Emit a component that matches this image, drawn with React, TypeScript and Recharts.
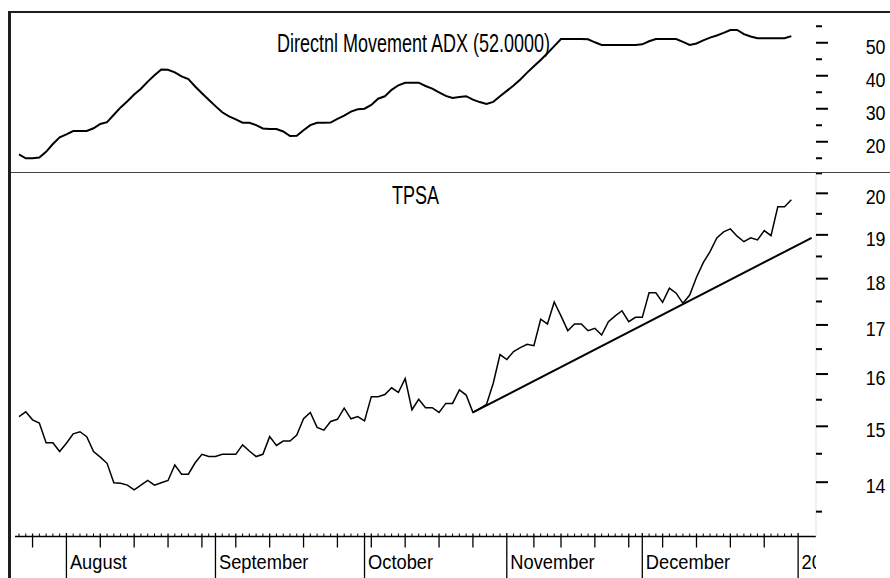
import { LineChart, Line, XAxis, YAxis, ReferenceLine } from 'recharts';

const FONT = "'Liberation Sans', Arial, sans-serif";

// TPSA closing prices, one per trading day (22 Jul 2004 .. 31 Dec 2004)
const tpsa = [
  15.18, 15.27, 15.12, 15.06, 14.7, 14.7, 14.54, 14.69, 14.86, 14.9,
  14.81, 14.54, 14.44, 14.33, 13.99, 13.98, 13.95, 13.87, 13.95, 14.03,
  13.95, 13.99, 14.03, 14.3, 14.14, 14.14, 14.34, 14.49, 14.45, 14.45,
  14.49, 14.49, 14.49, 14.66, 14.55, 14.45, 14.49, 14.81, 14.65, 14.73,
  14.73, 14.84, 15.14, 15.26, 14.98, 14.93, 15.09, 15.13, 15.34, 15.14,
  15.18, 15.1, 15.56, 15.56, 15.6, 15.73, 15.64, 15.91, 15.31, 15.51,
  15.35, 15.35, 15.26, 15.43, 15.43, 15.69, 15.59, 15.26, 15.33, 15.41,
  15.82, 16.39, 16.29, 16.45, 16.53, 16.6, 16.57, 17.12, 17.02, 17.49,
  17.19, 16.88, 17.02, 17.02, 16.88, 16.93, 16.79, 17.07, 17.19, 17.3,
  17.07, 17.16, 17.16, 17.69, 17.69, 17.48, 17.79, 17.68, 17.46, 17.64,
  18.03, 18.36, 18.61, 18.93, 19.07, 19.14, 18.97, 18.84, 18.93, 18.88,
  19.1, 18.98, 19.67, 19.67, 19.84,
];

// Directional movement ADX, same days
const adx = [
  16.17, 14.98, 14.98, 15.2, 16.95, 19.32, 21.35, 22.23, 23.26, 23.26,
  23.26, 24.08, 25.38, 25.92, 28.17, 30.41, 32.26, 34.29, 36.08, 38.23,
  40.14, 41.92, 41.83, 41.02, 39.8, 38.98, 36.74, 34.71, 32.74, 30.8,
  28.92, 27.68, 26.77, 25.77, 25.77, 25.02, 24.02, 23.86, 23.86, 23.11,
  21.74, 21.8, 23.5, 25.05, 25.77, 25.77, 25.8, 26.92, 27.89, 29.14,
  29.83, 30.02, 31.14, 33.05, 33.77, 35.74, 37.11, 37.86, 37.89, 37.89,
  36.89, 36.08, 34.98, 33.89, 33.26, 33.53, 33.8, 32.77, 32.02, 31.44,
  32.08, 33.77, 35.41, 37.02, 38.89, 40.95, 42.86, 44.8, 46.83, 48.98,
  51.14, 51.14, 51.14, 51.14, 51.05, 50.14, 49.32, 49.32, 49.32, 49.32,
  49.32, 49.32, 49.53, 50.44, 51.14, 51.14, 51.14, 51.14, 50.29, 49.35,
  49.77, 50.71, 51.56, 52.2, 52.98, 53.86, 53.86, 52.62, 51.89, 51.35,
  51.35, 51.35, 51.35, 51.35, 52.0,
];

// first trading day of each month / week (day index)
const monthStarts = [
  { day: 7, label: 'August' },
  { day: 29, label: 'September' },
  { day: 51, label: 'October' },
  { day: 72, label: 'November' },
  { day: 92, label: 'December' },
  { day: 115, label: '2005' },
];
const weekStarts = [2, 7, 12, 17, 22, 27, 32, 37, 42, 47, 52, 57, 62, 67, 72, 76, 80, 85, 90, 95, 100, 105, 110, 115];
const dayTicks = Array.from({ length: 116 }, (_, i) => i);

const trendLine = [
  { day: 67, value: 15.26 },
  { day: 117, value: 18.93 },
];

const adxTicks = [15, 20, 25, 30, 35, 40, 45, 50, 55];
const adxLabels = [20, 30, 40, 50];
const priceTicks = [13.5, 14, 14.5, 15, 15.5, 16, 16.5, 17, 17.5, 18, 18.5, 19, 19.5, 20, 20.5];
const priceLabels = [14, 15, 16, 17, 18, 19, 20];

const data = tpsa.map((v, i) => ({ day: i, tpsa: v, adx: adx[i] }));

const WIDTH = 890;
const AXIS_W = 74;
const PLOT_RIGHT = WIDTH - AXIS_W;
const X_DOMAIN: [number, number] = [-0.59, 117.64];
const TOP_H = 173;
const BOTTOM_H = 405;

function makeYTick(labels: number[]) {
  return (props: any) => {
    const { x, y, payload } = props;
    const major = labels.includes(payload.value);
    return (
      <g>
        <line x1={x} y1={y} x2={x + (major ? 12 : 6)} y2={y} stroke="#000" strokeWidth={2} />
        {major && (
          <text
            transform={`translate(${x + 69.5} ${y + 11}) scale(0.85 1)`}
            textAnchor="end"
            fontSize={21}
            fontFamily={FONT}
            fill="#000"
          >
            {payload.value}
          </text>
        )}
      </g>
    );
  };
}

function XTick(props: any) {
  const { x, y, payload } = props;
  const day = payload.value;
  const month = monthStarts.find((m) => m.day === day);
  if (month) {
    return (
      <g>
        <clipPath id={`mclip${day}`}>
          <rect x={0} y={0} width={PLOT_RIGHT} height={BOTTOM_H} />
        </clipPath>
        <line x1={x} y1={y - 3.5} x2={x} y2={y + 45} stroke="#000" strokeWidth={1.3} />
        <g clipPath={`url(#mclip${day})`}>
          <text
            transform={`translate(${x + 3.5} ${y + 32}) scale(0.915 1)`}
            fontSize={20}
            fontFamily={FONT}
            fill="#000"
          >
            {month.label}
          </text>
        </g>
      </g>
    );
  }
  if (weekStarts.includes(day)) {
    return <line x1={x} y1={y - 3} x2={x} y2={y + 11} stroke="#000" strokeWidth={1.3} />;
  }
  return <line x1={x} y1={y - 3} x2={x} y2={y} stroke="#000" strokeWidth={1} />;
}

export default function App() {
  return (
    <div style={{ position: 'absolute', left: 0, top: 0, width: WIDTH, height: 578, background: '#fff', overflow: 'hidden' }}>
      <div style={{ position: 'absolute', left: 0, top: 0 }}>
        <LineChart width={WIDTH} height={TOP_H} data={data} margin={{ top: 12, right: 0, bottom: 0, left: 15 }}>
          <XAxis dataKey="day" type="number" domain={X_DOMAIN} allowDataOverflow hide />
          <YAxis
            orientation="right"
            width={AXIS_W}
            domain={[10.53, 59.32]}
            allowDataOverflow
            ticks={adxTicks}
            interval={0}
            tickSize={0}
            tickMargin={0}
            axisLine={false}
            tickLine={false}
            tick={makeYTick(adxLabels)}
          />
          <Line type="linear" dataKey="adx" stroke="#000" strokeWidth={2} dot={false} isAnimationActive={false} />
        </LineChart>
      </div>
      <div style={{ position: 'absolute', left: 0, top: TOP_H }}>
        <LineChart width={WIDTH} height={BOTTOM_H} data={data} margin={{ top: 0, right: 0, bottom: 0, left: 15 }}>
          <XAxis
            dataKey="day"
            type="number"
            domain={X_DOMAIN}
            allowDataOverflow
            ticks={dayTicks}
            interval={0}
            height={41.5}
            tickSize={0}
            tickMargin={0}
            tickLine={false}
            axisLine={{ stroke: '#000', strokeWidth: 1.5 }}
            tick={XTick}
          />
          <YAxis
            orientation="right"
            width={AXIS_W}
            scale="log"
            domain={[13.092, 20.508]}
            allowDataOverflow
            ticks={priceTicks}
            interval={0}
            tickSize={0}
            tickMargin={0}
            axisLine={{ stroke: '#e2e2e2', strokeWidth: 1 }}
            tickLine={false}
            tick={makeYTick(priceLabels)}
          />
          <ReferenceLine
            segment={trendLine.map((p) => ({ x: p.day, y: p.value }))}
            stroke="#000"
            strokeWidth={2}
            ifOverflow="visible"
          />
          <Line type="linear" dataKey="tpsa" stroke="#000" strokeWidth={1.5} dot={false} isAnimationActive={false} />
        </LineChart>
      </div>
      <div style={{ position: 'absolute', left: 10, top: 172, width: 880, height: 1, background: '#444' }} />
      <div style={{ position: 'absolute', left: 8, top: 11, width: 882, height: 2, background: '#1e1e1e' }} />
      <div style={{ position: 'absolute', left: 8, top: 11, width: 2.5, height: 567, background: '#1e1e1e' }} />
      <svg width={WIDTH} height={578} style={{ position: 'absolute', left: 0, top: 0, pointerEvents: 'none' }}>
        <text x={277} y={52} fontSize={26.5} fontFamily={FONT} fill="#000" textLength={273} lengthAdjust="spacingAndGlyphs">
          Directnl Movement ADX (52.0000)
        </text>
        <text x={392} y={204.3} fontSize={26.5} fontFamily={FONT} fill="#000" textLength={47} lengthAdjust="spacingAndGlyphs">
          TPSA
        </text>
      </svg>
    </div>
  );
}
